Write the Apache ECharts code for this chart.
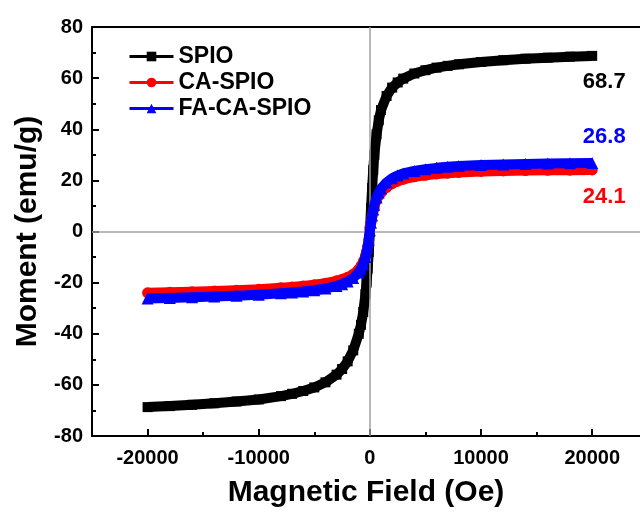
<!DOCTYPE html>
<html>
<head>
<meta charset="utf-8">
<script src="https://cdn.jsdelivr.net/npm/echarts@6/dist/echarts.min.js"></script>
<style>
  html, body { margin: 0; padding: 0; background: #fff; }
  #chart { width: 640px; height: 514px; }
</style>
</head>
<body>
<div id="chart"></div>
<script>
// Applied field (Oe), shared by all three magnetisation curves
const fieldOe = [-20000, -18000, -16000, -14000, -12000, -10000, -8000, -7000, -6000, -5000,
  -4000, -3000, -2500, -2000, -1500, -1000, -800, -600, -400, -300, -200, -100,
  0, 100, 200, 300, 400, 600, 800, 1000, 1500, 2000, 2500, 3000, 4000, 5000,
  6000, 7000, 8000, 10000, 12000, 14000, 16000, 18000, 20000];

// Magnetic moment (emu/g)
const spio = [-68.7, -68.3, -67.8, -67.2, -66.5, -65.7, -64.4, -63.5, -62.4, -61.0,
  -59.0, -56.0, -53.8, -50.8, -46.5, -40.0, -36.5, -31.5, -24.5, -20.0, -14.5, -8.0,
  0, 9, 17, 24, 30, 38, 43.5, 47.5, 53, 56.3, 58.3, 59.8, 61.8, 63.1,
  64.1, 64.8, 65.4, 66.3, 67.0, 67.6, 68.0, 68.4, 68.7];

const caSpio = [-24.0, -23.8, -23.6, -23.3, -23.0, -22.6, -22.0, -21.7, -21.3, -20.8,
  -20.2, -19.3, -18.7, -17.9, -16.7, -14.8, -13.5, -11.8, -9.5, -7.9, -5.8, -3.2,
  1.5, 3.5, 6.0, 8.0, 9.8, 12.3, 14.0, 15.2, 17.3, 18.7, 19.7, 20.4, 21.4, 22.0,
  22.5, 22.8, 23.1, 23.5, 23.7, 23.85, 23.95, 24.0, 24.1];

const faCaSpio = [-26.2, -26.0, -25.7, -25.4, -25.1, -24.7, -24.2, -23.9, -23.5, -23.0,
  -22.3, -21.3, -20.6, -19.6, -18.2, -16.0, -14.6, -12.8, -10.0, -8.2, -6.0, -3.2,
  0.5, 3.4, 6.3, 8.6, 10.5, 13.3, 15.3, 16.8, 19.2, 20.8, 21.9, 22.7, 23.7, 24.4,
  24.9, 25.3, 25.6, 26.0, 26.2, 26.4, 26.6, 26.7, 26.8];

const seriesNames = ['SPIO', 'CA-SPIO', 'FA-CA-SPIO'];
const xMajorTicks = [-20000, -10000, 0, 10000, 20000];
const xMinorTicks = [-15000, -5000, 5000, 15000];

const FONT = '"Liberation Sans", Arial, sans-serif';

// pair fields with moments; the last point carries the saturation label
function buildData(values, color, offset) {
  return fieldOe.map((h, i) => {
    if (i === values.length - 1) {
      return {
        value: [h, values[i]],
        label: {
          show: true,
          position: 'inside',
          offset: offset,
          formatter: String(values[i]),
          color: color,
          fontFamily: FONT,
          fontWeight: 'bold',
          fontSize: 22
        }
      };
    }
    return [h, values[i]];
  });
}

function curve(name, values, color, symbol, size, offset, z) {
  return {
    name: name,
    type: 'line',
    xAxisIndex: 0,
    yAxisIndex: 0,
    data: buildData(values, color, offset),
    symbol: symbol,
    symbolSize: size,
    showSymbol: true,
    showAllSymbol: true,
    color: color,
    lineStyle: { color: color, width: 10, join: 'round' },
    itemStyle: { color: color },
    emphasis: { disabled: true },
    animation: false,
    z: z
  };
}

const chart = echarts.init(document.getElementById('chart'), null, { renderer: 'canvas' });

// the plot frame runs past the right edge of the figure
const X_MIN = -25000;
const X_MAX = 24300;

chart.setOption({
  backgroundColor: '#fff',
  animation: false,
  grid: { left: 92, right: 0, top: 27, bottom: 78, containLabel: false },
  legend: {
    orient: 'vertical',
    left: 123,
    top: 40,
    itemWidth: 44,
    itemHeight: 12,
    itemGap: 3,
    data: seriesNames,
    lineStyle: { width: 3 },
    textStyle: { fontFamily: FONT, fontWeight: 'bold', fontSize: 23, color: '#000', lineHeight: 22 }
  },
  xAxis: [
    {
      type: 'value',
      min: X_MIN,
      max: X_MAX,
      interval: 5000,
      position: 'bottom',
      name: 'Magnetic Field (Oe)',
      nameLocation: 'middle',
      nameGap: 42,
      nameTextStyle: { fontFamily: FONT, fontWeight: 'bold', fontSize: 30, color: '#000' },
      axisLine: { show: true, onZero: false, lineStyle: { color: '#000', width: 2 } },
      axisTick: { show: true, inside: true, length: 7, customValues: xMajorTicks, lineStyle: { color: '#000', width: 2 } },
      axisLabel: {
        show: true, customValues: xMajorTicks, margin: 12,
        formatter: (v) => String(v),
        fontFamily: FONT, fontWeight: 'bold', fontSize: 20, color: '#000'
      },
      splitLine: { show: false }
    },
    {
      // minor ticks between the labelled ones
      type: 'value',
      min: X_MIN,
      max: X_MAX,
      interval: 5000,
      position: 'bottom',
      axisLine: { show: false, onZero: false },
      axisTick: { show: true, inside: true, length: 4, customValues: xMinorTicks, lineStyle: { color: '#000', width: 2 } },
      axisLabel: { show: false },
      splitLine: { show: false }
    },
    {
      // top frame
      type: 'value',
      min: X_MIN,
      max: X_MAX,
      interval: 5000,
      position: 'top',
      axisLine: { show: true, onZero: false, lineStyle: { color: '#000', width: 2 } },
      axisTick: { show: false },
      axisLabel: { show: false },
      splitLine: { show: false }
    }
  ],
  yAxis: [
    {
      type: 'value',
      min: -80,
      max: 80,
      interval: 20,
      position: 'left',
      name: 'Moment (emu/g)',
      nameLocation: 'middle',
      nameGap: 43,
      nameTextStyle: { fontFamily: FONT, fontWeight: 'bold', fontSize: 30, color: '#000' },
      axisLine: { show: true, onZero: false, lineStyle: { color: '#000', width: 2 } },
      axisTick: { show: true, inside: true, length: 7, lineStyle: { color: '#000', width: 2 } },
      minorTick: { show: true, splitNumber: 2, length: 4, lineStyle: { color: '#000', width: 2 } },
      axisLabel: { margin: 9, fontFamily: FONT, fontWeight: 'bold', fontSize: 20, color: '#000' },
      splitLine: { show: false },
      minorSplitLine: { show: false }
    }
  ],
  series: [
    {
      // zero reference lines
      name: 'zero',
      type: 'line',
      data: [],
      silent: true,
      z: 1,
      markLine: {
        silent: true,
        symbol: ['none', 'none'],
        label: { show: false },
        lineStyle: { color: '#a0a0a0', width: 1.5, type: 'solid' },
        data: [{ xAxis: 0 }, { yAxis: 0 }],
        animation: false
      }
    },
    curve('SPIO', spio, '#000000', 'rect', 10, [12, 26], 3),
    curve('CA-SPIO', caSpio, '#ff0000', 'circle', 11, [12, 27], 4),
    curve('FA-CA-SPIO', faCaSpio, '#0000ff', 'triangle', 12, [12, -26], 5)
  ]
});
</script>
</body>
</html>
